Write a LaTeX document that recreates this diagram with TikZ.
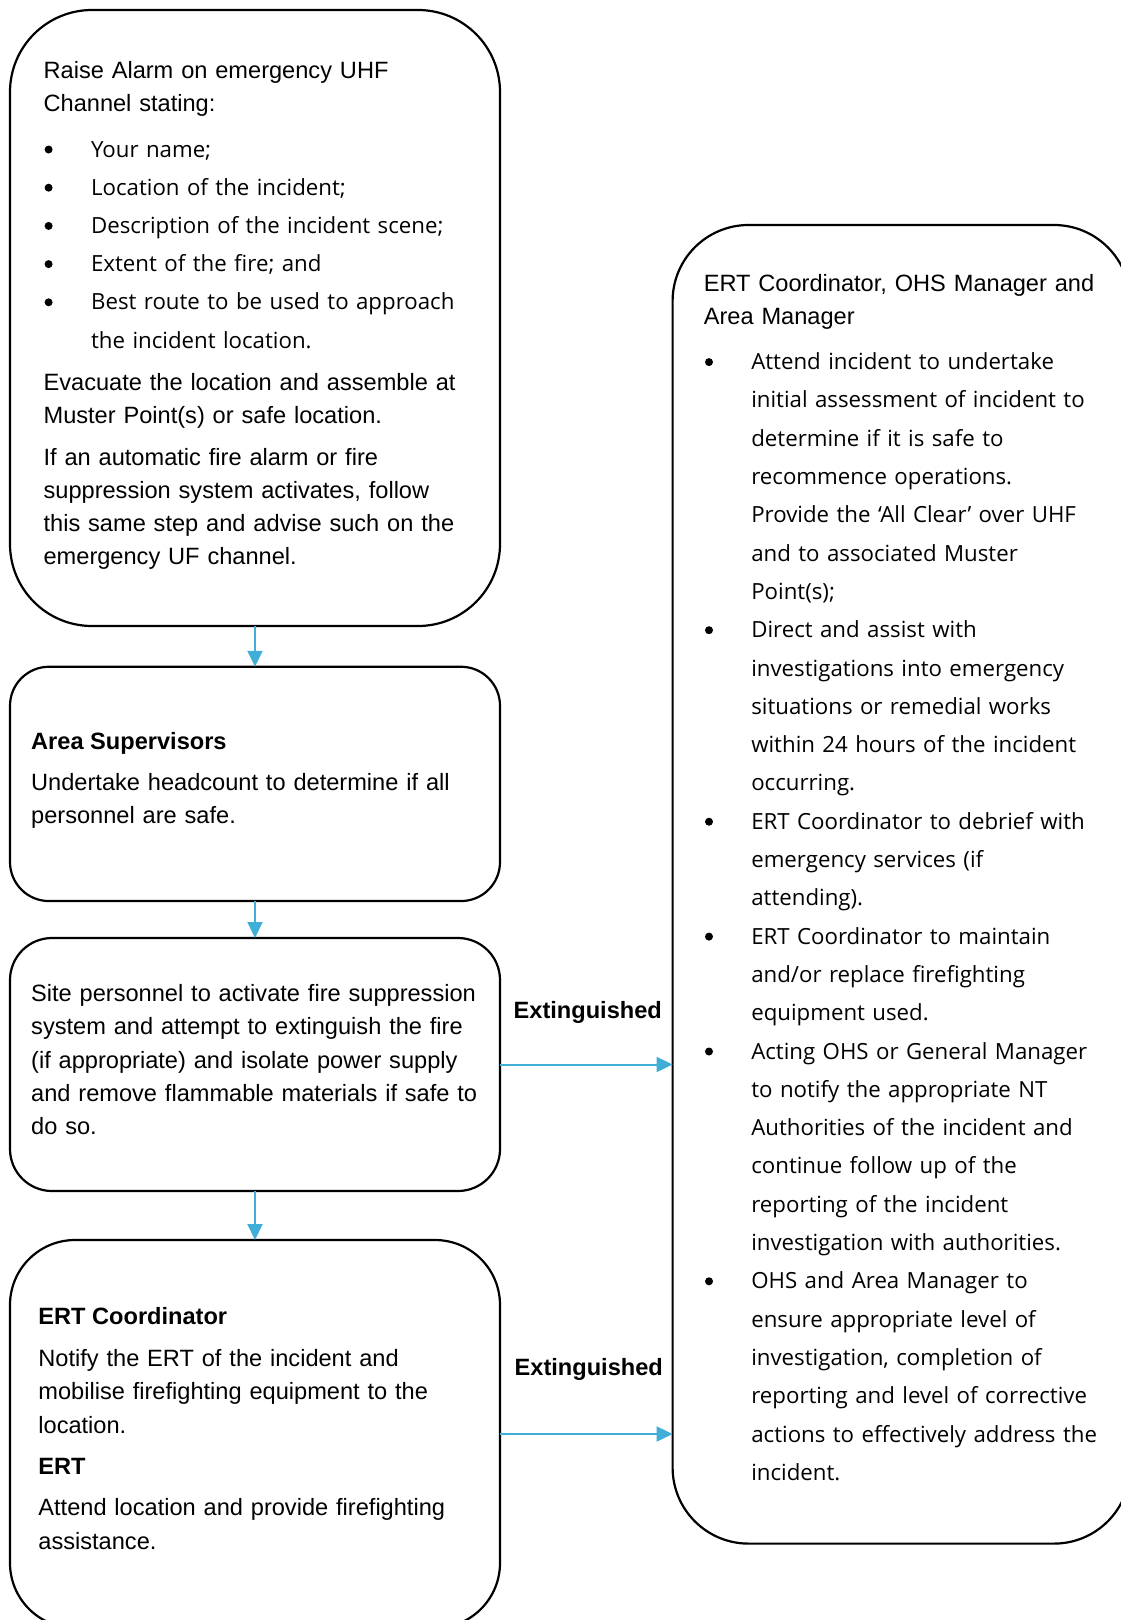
\documentclass[tikz,border=0pt]{standalone}
\usepackage{fontspec}
\setmainfont{Liberation Sans}
\newfontfamily\segoe{Open Sans}
\usetikzlibrary{arrows.meta}
\definecolor{arrowblue}{RGB}{64,174,214}
\tikzset{
  stepbox/.style={draw=black, line width=2.2pt, outer sep=0pt, inner sep=0pt, rectangle},
  flow/.style={draw=arrowblue, line width=2pt, -{Triangle[length=16pt,width=15pt]}},
  arialtxt/.style={anchor=base west, inner sep=0pt, text width=470pt, align=left, font=\fontsize{23.6}{#1}\selectfont},
  arialtxt/.default=33,
  headtxt/.style={anchor=base west, inner sep=0pt, font=\fontsize{23.6}{30}\selectfont\bfseries},
  itemtxt/.style={anchor=base west, inner sep=0pt, text width=400pt, align=left, font=\fontsize{22.25}{#1}\segoe},
  itemtxt/.default=38.3,
  bul/.style={circle, fill=black, draw=none, minimum size=8pt, inner sep=0pt},
}
\begin{document}
\begin{tikzpicture}[x=1pt,y=-1pt]
\clip (0,0) rectangle (1121,1620);
\fill[white] (0,0) rectangle (1121,1620);

% boxes
\node[stepbox, minimum width=490pt, minimum height=616pt, rounded corners=82pt] (b1) at (255,318) {};
\node[stepbox, minimum width=490pt, minimum height=234.3pt, rounded corners=39pt] (b2) at (255,783.9) {};
\node[stepbox, minimum width=490pt, minimum height=253pt, rounded corners=42pt] (b3) at (255,1064.5) {};
\node[stepbox, minimum width=490pt, minimum height=388pt, rounded corners=65pt] (b4) at (255,1434) {};
\node[stepbox, minimum width=457.4pt, minimum height=1318.6pt, rounded corners=76pt] (b5) at (901.3,884.3) {};

% box 1 text
\node[arialtxt] (t1a) at (43.4,78.5) {Raise Alarm on emergency UHF\\Channel stating:};
\node[bul] (d1a) at (48.6,149.5) {};
\node[itemtxt] (i1a) at (90.9,157) {Your name;};
\node[bul] (d1b) at (48.6,187.7) {};
\node[itemtxt] (i1b) at (90.9,195.2) {Location of the incident;};
\node[bul] (d1c) at (48.6,225.9) {};
\node[itemtxt] (i1c) at (90.9,233.4) {Description of the incident scene;};
\node[bul] (d1d) at (48.6,264.1) {};
\node[itemtxt] (i1d) at (90.9,271.6) {Extent of the fire; and};
\node[bul] (d1e) at (48.6,302.3) {};
\node[itemtxt=38.2] (i1e) at (90.9,309.8) {Best route to be used to approach\\the incident location.};
\node[arialtxt] (t1c) at (43.4,390.8) {Evacuate the location and assemble at\\Muster Point(s) or safe location.};
\node[arialtxt] (t1d) at (43.4,465.2) {If an automatic fire alarm or fire\\suppression system activates, follow\\this same step and advise such on the\\emergency UF channel.};

% box 2 text
\node[headtxt] (h2) at (31,749.5) {Area Supervisors};
\node[arialtxt] (t2) at (31,790.5) {Undertake headcount to determine if all\\personnel are safe.};

% box 3 text
\node[arialtxt=33.3] (t3) at (31,1001.5) {Site personnel to activate fire suppression\\system and attempt to extinguish the fire\\(if appropriate) and isolate power supply\\and remove flammable materials if safe to\\do so.};

% box 4 text
\node[headtxt] (h4a) at (38.2,1324.5) {ERT Coordinator};
\node[arialtxt=33.5] (t4a) at (38.2,1366.1) {Notify the ERT of the incident and\\mobilise firefighting equipment to the\\location.};
\node[headtxt] (h4b) at (38.2,1474.5) {ERT};
\node[arialtxt=33.3] (t4b) at (38.2,1515.9) {Attend location and provide firefighting\\assistance.};

% box 5 text
\node[arialtxt] (t5) at (703.6,291.6) {ERT Coordinator, OHS Manager and\\Area Manager};
\node[bul] (d5a) at (709,362.1) {};
\node[itemtxt] (i5a) at (751.1,369.6) {Attend incident to undertake\\initial assessment of incident to\\determine if it is safe to\\recommence operations.\\Provide the ‘All Clear’ over UHF\\and to associated Muster\\Point(s);};
\node[bul] (d5b) at (709,630.2) {};
\node[itemtxt] (i5b) at (751.1,637.7) {Direct and assist with\\investigations into emergency\\situations or remedial works\\within 24 hours of the incident\\occurring.};
\node[bul] (d5c) at (709,821.7) {};
\node[itemtxt] (i5c) at (751.1,829.2) {ERT Coordinator to debrief with\\emergency services (if\\attending).};
\node[bul] (d5d) at (709,936.6) {};
\node[itemtxt] (i5d) at (751.1,944.1) {ERT Coordinator to maintain\\and/or replace firefighting\\equipment used.};
\node[bul] (d5e) at (709,1051.5) {};
\node[itemtxt] (i5e) at (751.1,1059) {Acting OHS or General Manager\\to notify the appropriate NT\\Authorities of the incident and\\continue follow up of the\\reporting of the incident\\investigation with authorities.};
\node[bul] (d5f) at (709,1281.3) {};
\node[itemtxt] (i5f) at (751.1,1288.8) {OHS and Area Manager to\\ensure appropriate level of\\investigation, completion of\\reporting and level of corrective\\actions to effectively address the\\incident.};

% connectors
\draw[flow] (b1.south) -- (b2.north);
\draw[flow] (b2.south) -- (b3.north);
\draw[flow] (b3.south) -- (b4.north);
\draw[flow] (b3.east) -- (b3.east -| b5.west);
\draw[flow] (b4.east) -- (b4.east -| b5.west);

% labels
\node[headtxt] (e1) at (513.5,1018) {Extinguished};
\node[headtxt] (e2) at (514.5,1375.5) {Extinguished};
\end{tikzpicture}
\end{document}
